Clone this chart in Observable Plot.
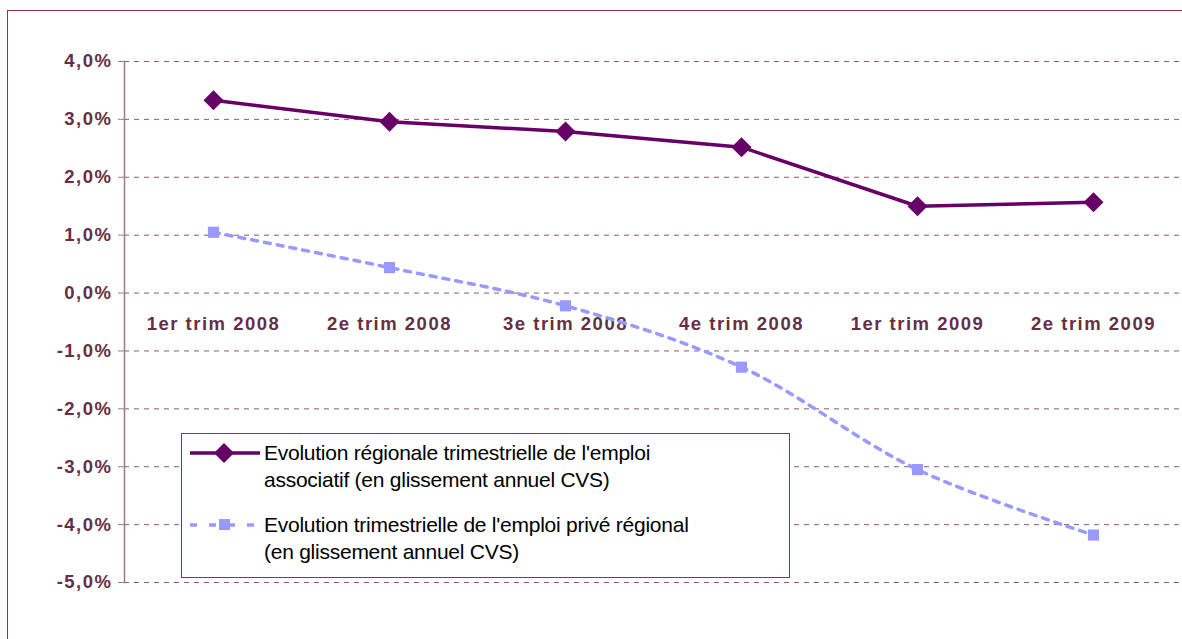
<!DOCTYPE html>
<html><head><meta charset="utf-8">
<script src="https://cdn.jsdelivr.net/npm/d3@7"></script>
<script src="https://cdn.jsdelivr.net/npm/@observablehq/plot@0.6"></script>
<style>
html,body{margin:0;padding:0;background:#fff;overflow:hidden;}
#wrap{position:relative;width:1182px;height:639px;font-family:"Liberation Sans",Arial,sans-serif;}
#border{position:absolute;left:7px;top:10px;width:1200px;height:700px;border:1.5px solid #7a3a55;box-sizing:border-box;}
#chart{position:absolute;left:0;top:0;}
#chart svg text{letter-spacing:1.5px;}
#legend{position:absolute;left:181px;top:433px;width:609px;height:145px;border:1px solid #7a3a55;background:#fff;box-sizing:border-box;font-size:21px;letter-spacing:-0.25px;color:#000;}
.item{position:absolute;left:6px;display:flex;align-items:flex-start;}
.item svg{flex:none;margin-right:4px;}
.item div{line-height:27px;white-space:nowrap;}
</style></head>
<body><div id="wrap"><div id="border"></div><div id="chart"></div><div id="legend"></div></div>
<script>
const categories = ["1er trim 2008","2e trim 2008","3e trim 2008","4e trim 2008","1er trim 2009","2e trim 2009"];
const associatif = [3.33, 2.96, 2.79, 2.52, 1.50, 1.57];
const prive = [1.05, 0.44, -0.22, -1.28, -3.05, -4.18];
const yTicks = [4,3,2,1,0,-1,-2,-3,-4,-5];
const seriesLines = [
  ["Evolution régionale trimestrielle de l'emploi", "associatif (en glissement annuel CVS)"],
  ["Evolution trimestrielle de l'emploi privé régional", "(en glissement annuel CVS)"]
];

const dataA = categories.map((c,i)=>({cat:c, v:associatif[i]}));
const dataP = categories.map((c,i)=>({cat:c, v:prive[i]}));
const maroon = "#662f45";
const fmt = d => (d<0?"-":"") + Math.abs(d).toFixed(1).replace(".",",") + "%";

const plot = Plot.plot({
  width: 1182, height: 639,
  marginLeft: 124, marginTop: 61, marginBottom: 57, marginRight: 0,
  x: {type:"band", domain: categories, padding: 0, axis: null, label: null},
  y: {domain: [-5,4], ticks: yTicks, axis: null, label: null},
  style: {fontFamily: "'Liberation Sans', Arial, sans-serif"},
  marks: [
    Plot.gridY(yTicks, {stroke: "#7a3a55", strokeOpacity: 0.85, strokeDasharray: "5,5", strokeWidth: 1}),
    Plot.frame({anchor: "left", stroke: "#a07888", strokeWidth: 1.5}),
    Plot.axisY(yTicks, {tickSize: 6, tickPadding: 6, stroke: "#a07888", tickFormat: fmt, label: null,
      fontSize: 18.5, fontWeight: "bold", fill: maroon}),
    Plot.text(categories, {x: d=>d, y: ()=>0, dy: 31, text: d=>d, fontSize: 18.5, fontWeight: "bold", fill: maroon}),
    Plot.line(dataP, {x: "cat", y: "v", stroke: "#9999ff", strokeWidth: 3.5, strokeDasharray: "6,7", curve: "catmull-rom"}),
    Plot.dot(dataP, {x: "cat", y: "v", symbol: "square", r: 6.3, fill: "#9999ff", stroke: "none"}),
    Plot.line(dataA, {x: "cat", y: "v", stroke: "#660066", strokeWidth: 3.5}),
    Plot.dot(dataA, {x: "cat", y: "v", symbol: "diamond2", r: 9, fill: "#660066", stroke: "none"})
  ]
});
document.getElementById("chart").appendChild(plot);

const legend = document.getElementById("legend");
const items = [
  {lines: seriesLines[0], top: 5, svg: `<svg width="72" height="27"><line x1="2" y1="14" x2="72" y2="14" stroke="#660066" stroke-width="3.5"/><path d="M36 4 L46 14 L36 24 L26 14 Z" fill="#660066"/></svg>`},
  {lines: seriesLines[1], top: 77, svg: `<svg width="72" height="27"><line x1="2" y1="14" x2="72" y2="14" stroke="#9999ff" stroke-width="3.5" stroke-dasharray="7,12"/><rect x="31" y="8" width="11" height="11" fill="#9999ff"/></svg>`}
];
items.forEach(it=>{
  const d = document.createElement("div");
  d.className = "item"; d.style.top = it.top + "px";
  const t = document.createElement("div");
  it.lines.forEach((l,j)=>{ if (j) t.appendChild(document.createElement("br")); t.appendChild(document.createTextNode(l)); });
  d.innerHTML = it.svg; d.appendChild(t);
  legend.appendChild(d);
});
</script></body></html>
